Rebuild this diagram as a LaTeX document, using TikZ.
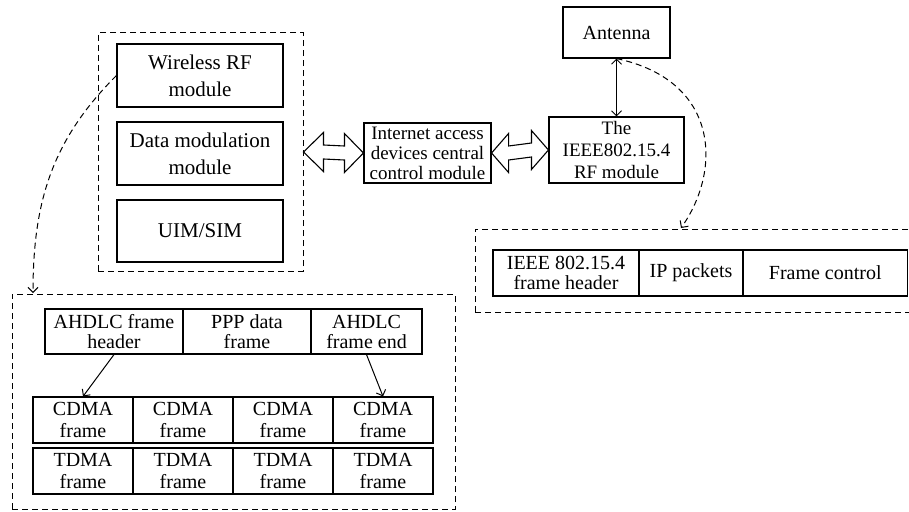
\documentclass[tikz,border=0pt]{standalone}
\usepackage{fontspec}
\setmainfont{Liberation Serif}
\usetikzlibrary{arrows.meta,calc}

\tikzset{
	box/.style={draw, line width=1.1pt, inner sep=0pt, align=center, font=\fontsize{20}{20}\selectfont},
	group/.style={draw, line width=1pt, dash pattern=on 6pt off 4pt},
	fat/.style={draw, line width=1.1pt, fill=white, line join=miter},
	link/.style={line width=1pt, -{Straight Barb[length=5pt,width=10pt]}},
	both/.style={line width=1pt, {Straight Barb[length=5pt,width=10pt]}-{Straight Barb[length=5pt,width=10pt]}},
	jump/.style={line width=1pt, dash pattern=on 6pt off 4pt, -{Straight Barb[length=5pt,width=10pt]}}
}

\begin{document}
\begin{tikzpicture}[x=1pt,y=1pt]

	\useasboundingbox (0,0) rectangle (909,-511);
	\clip (0,0) rectangle (909,-511);

	\coordinate (rfdrop) at (33,-293);
	\coordinate (iedrop) at (681,-228);

	% terminal side
	\node[group, minimum width=205, minimum height=238] (modules) at (200.5,-152) {};

	\node[box, minimum width=166, minimum height=63, font=\fontsize{21}{27}\selectfont] (rf) at (200,-75.5) {Wireless RF\\module};
	\node[box, minimum width=166, minimum height=63, font=\fontsize{21}{27}\selectfont] (dmod) at (200,-153.5) {Data modulation\\module};
	\node[box, minimum width=166, minimum height=62, font=\fontsize{21}{27}\selectfont] (uim) at (200,-231) {UIM/SIM};

	\node[box, minimum width=127, minimum height=60, font=\fontsize{19}{20}\selectfont] (inet) at (427.5,-153) {Internet access\\devices central\\control module};

	\node[box, minimum width=135, minimum height=66, font=\fontsize{19}{22}\selectfont] (ieee) at (616.5,-150) {The\\IEEE802.15.4\\RF module};
	\node[box, minimum width=107, minimum height=51] (ant) at (616.5,-32.5) {Antenna};

	% wide arrows
	\draw[fat] (modules.east) -- ++(20,19.5) -- ++(0,-12.5) -- ($(inet.west)+(-19,7)$) -- ++(0,12.5) -- (inet.west)
		-- ++(-19,-19.5) -- ++(0,12.5) -- ($(modules.east)+(20,-7)$) -- ++(0,-12.5) -- cycle;
	\draw[fat] (inet.east) -- ++(17,19.5) -- ++(0,-12.5) -- ($(ieee.west)+(-17,7)$) -- ++(0,12.5) -- (ieee.west)
		-- ++(-17,-19.5) -- ++(0,12.5) -- ($(inet.east)+(17,-7)$) -- ++(0,-12.5) -- cycle;

	\draw[both] (ant.south) -- (ieee.north);

	% IEEE 802.15.4 frame
	\node[group, minimum width=440, minimum height=83] (zframe) at (695,-270.5) {};

	\node[box, minimum width=146, minimum height=46] (fhead) at (566,-273) {IEEE 802.15.4\\frame header};
	\node[box, minimum width=104, minimum height=46] (ippkt) at (691,-273) {IP packets};
	\node[box, minimum width=164.5, minimum height=46] (fctrl) at (825.25,-273) {Frame control};

	% PPP frame
	\node[group, minimum width=443, minimum height=215] (pframe) at (233.5,-401.5) {};

	\node[box, minimum width=138, minimum height=45] (ah1) at (114,-331.5) {AHDLC frame\\header};
	\node[box, minimum width=128, minimum height=45] (ah2) at (247,-331.5) {PPP data\\frame};
	\node[box, minimum width=111, minimum height=45] (ah3) at (366.5,-331.5) {AHDLC\\frame end};

	\foreach \i in {1,...,4}
	{
		\node[box, minimum width=100, minimum height=46, font=\fontsize{20}{22}\selectfont] (cd\i) at ({-17+100*\i},-420) {CDMA\\frame};
		\node[box, minimum width=100, minimum height=46, font=\fontsize{20}{22}\selectfont] (td\i) at ({-17+100*\i},-471) {TDMA\\frame};
	}

	\draw[link] (ah1.south) -- (cd1.north);
	\draw[link] (ah3.south) -- (cd4.north);

	% dashed call-outs
	\draw[jump] (rf.west) to[out=225,in=90] (rfdrop);
	\draw[jump] (ant.south) .. controls +(103,-22) and +(41,58) .. (iedrop);

\end{tikzpicture}
\end{document}
